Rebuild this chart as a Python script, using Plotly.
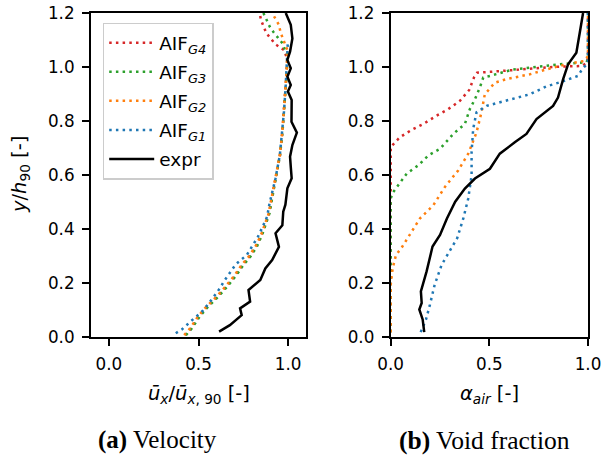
import plotly.graph_objects as go

# velocity panel (a): x = u/u90, y = y/h90
VEL_G4_X = [0.425, 0.458, 0.501, 0.548, 0.605, 0.652, 0.708, 0.746, 0.784, 0.821, 0.852, 0.871, 0.894, 0.904,
            0.931, 0.955, 0.968, 0.977, 0.986, 0.992, 0.995, 0.977, 0.930, 0.902, 0.879, 0.864, 0.849, 0.841]
VEL_G4_Y = [0.007, 0.032, 0.075, 0.112, 0.149, 0.184, 0.230, 0.267, 0.297, 0.334, 0.378, 0.415, 0.458, 0.495,
            0.588, 0.674, 0.760, 0.834, 0.921, 0.983, 1.030, 1.063, 1.084, 1.106, 1.125, 1.149, 1.174, 1.200]
VEL_G3_X = [0.430, 0.463, 0.506, 0.553, 0.610, 0.657, 0.713, 0.751, 0.789, 0.825, 0.855, 0.874, 0.896, 0.906,
            0.932, 0.955, 0.969, 0.978, 0.987, 0.993, 0.996, 0.986, 0.968, 0.940, 0.920, 0.898, 0.862]
VEL_G3_Y = [0.007, 0.032, 0.075, 0.112, 0.149, 0.184, 0.230, 0.267, 0.297, 0.334, 0.378, 0.415, 0.458, 0.495,
            0.588, 0.674, 0.760, 0.834, 0.921, 0.983, 1.044, 1.057, 1.088, 1.109, 1.128, 1.149, 1.200]
VEL_G2_X = [0.420, 0.453, 0.496, 0.543, 0.600, 0.647, 0.703, 0.741, 0.779, 0.817, 0.849, 0.868, 0.892, 0.902,
            0.930, 0.954, 0.968, 0.977, 0.986, 0.992, 0.996, 0.996, 0.981, 0.958, 0.949, 0.930, 0.911]
VEL_G2_Y = [0.007, 0.032, 0.075, 0.112, 0.149, 0.184, 0.230, 0.267, 0.297, 0.334, 0.378, 0.415, 0.458, 0.495,
            0.588, 0.674, 0.760, 0.834, 0.921, 0.983, 1.044, 1.063, 1.088, 1.128, 1.156, 1.178, 1.200]
VEL_G1_X = [0.373, 0.407, 0.460, 0.524, 0.575, 0.619, 0.641, 0.685, 0.709, 0.770, 0.798, 0.830, 0.860, 0.883,
            0.896, 0.930, 0.954, 0.968, 0.977, 0.986, 0.992, 0.996, 0.998]
VEL_G1_Y = [0.014, 0.028, 0.060, 0.097, 0.140, 0.180, 0.205, 0.248, 0.270, 0.304, 0.334, 0.369, 0.411, 0.446,
            0.493, 0.588, 0.674, 0.760, 0.834, 0.921, 0.983, 1.044, 1.084]
VEL_EXP_X = [0.615, 0.675, 0.741, 0.732, 0.788, 0.779, 0.845, 0.873, 0.911, 0.949, 0.930, 0.968, 0.973, 0.985,
             0.996, 1.020, 1.015, 1.011, 1.024, 1.049, 1.019, 1.020, 0.999, 1.015, 0.996, 1.015, 0.996, 1.011,
             1.024, 1.015, 0.987]
VEL_EXP_Y = [0.020, 0.044, 0.081, 0.106, 0.131, 0.174, 0.211, 0.254, 0.285, 0.334, 0.384, 0.414, 0.464, 0.490,
             0.551, 0.588, 0.630, 0.668, 0.711, 0.757, 0.797, 0.878, 0.909, 0.933, 0.964, 0.995, 1.026, 1.057,
             1.106, 1.156, 1.200]

# void fraction panel (b): x = alpha_air, y = y/h90
VOID_G4_X = [0.0, 0.0, 0.022, 0.047, 0.106, 0.165, 0.233, 0.292, 0.351, 0.398, 0.422, 0.438, 0.503, 0.604,
             0.705, 0.823, 0.971, 0.995, 1.0, 1.0]
VOID_G4_Y = [0.018, 0.703, 0.721, 0.740, 0.767, 0.789, 0.820, 0.844, 0.875, 0.915, 0.961, 0.979, 0.982, 0.988,
             0.994, 1.000, 1.004, 1.016, 1.040, 1.200]
VOID_G3_X = [0.0, 0.0, 0.013, 0.039, 0.081, 0.140, 0.190, 0.250, 0.317, 0.376, 0.401, 0.427, 0.452, 0.469,
             0.503, 0.621, 0.739, 0.857, 0.992, 1.0, 1.0]
VOID_G3_Y = [0.018, 0.513, 0.537, 0.564, 0.605, 0.636, 0.672, 0.697, 0.752, 0.789, 0.844, 0.881, 0.924, 0.961,
             0.967, 0.991, 1.001, 1.010, 1.018, 1.030, 1.200]
VOID_G2_X = [0.0, 0.0, 0.010, 0.027, 0.054, 0.106, 0.148, 0.216, 0.275, 0.342, 0.393, 0.435, 0.460, 0.477,
             0.528, 0.587, 0.705, 0.789, 0.890, 0.978, 1.0, 1.0]
VOID_G2_Y = [0.018, 0.194, 0.255, 0.304, 0.329, 0.390, 0.439, 0.488, 0.556, 0.617, 0.679, 0.758, 0.832, 0.899,
             0.942, 0.955, 0.973, 0.991, 1.010, 1.022, 1.040, 1.200]
VOID_G1_X = [0.152, 0.179, 0.199, 0.223, 0.258, 0.300, 0.337, 0.368, 0.393, 0.410, 0.410, 0.418, 0.435, 0.486,
             0.587, 0.705, 0.789, 0.865, 0.949, 0.970, 1.0, 1.0]
VOID_G1_Y = [0.018, 0.065, 0.120, 0.194, 0.267, 0.317, 0.366, 0.439, 0.513, 0.599, 0.685, 0.771, 0.832, 0.856,
             0.875, 0.899, 0.928, 0.945, 0.967, 0.991, 1.016, 1.200]
VOID_EXP_X = [0.170, 0.162, 0.145, 0.157, 0.153, 0.182, 0.212, 0.250, 0.285, 0.327, 0.376, 0.427, 0.503, 0.553,
              0.629, 0.688, 0.739, 0.823, 0.848, 0.874, 0.899, 0.941, 0.958, 0.975]
VOID_EXP_Y = [0.018, 0.065, 0.102, 0.126, 0.169, 0.243, 0.335, 0.378, 0.439, 0.501, 0.550, 0.587, 0.623, 0.679,
              0.721, 0.752, 0.807, 0.856, 0.887, 0.955, 1.010, 1.053, 1.126, 1.200]

Y_TICKS = [0.0, 0.2, 0.4, 0.6, 0.8, 1.0, 1.2]
X_TICKS = [0.0, 0.5, 1.0]

NAMES = ["AIF<sub><i>G4</i></sub>", "AIF<sub><i>G3</i></sub>", "AIF<sub><i>G2</i></sub>",
         "AIF<sub><i>G1</i></sub>", "expr"]
COLORS = ["#d62728", "#2ca02c", "#ff7f0e", "#1f77b4", "black"]

FONT = "DejaVu Sans"
DOT = "2.5px,4.2px"

vel = [(VEL_G4_X, VEL_G4_Y), (VEL_G3_X, VEL_G3_Y), (VEL_G2_X, VEL_G2_Y), (VEL_G1_X, VEL_G1_Y),
       (VEL_EXP_X, VEL_EXP_Y)]
void = [(VOID_G4_X, VOID_G4_Y), (VOID_G3_X, VOID_G3_Y), (VOID_G2_X, VOID_G2_Y), (VOID_G1_X, VOID_G1_Y),
        (VOID_EXP_X, VOID_EXP_Y)]

fig = go.Figure()
for i, (name, color) in enumerate(zip(NAMES, COLORS)):
    line = dict(color=color, width=2.5) if name == "expr" else dict(color=color, width=2.5, dash=DOT)
    fig.add_trace(go.Scatter(x=vel[i][0], y=vel[i][1], mode="lines", name=name, line=line,
                             legendgroup=str(i), xaxis="x", yaxis="y"))
for i, (name, color) in enumerate(zip(NAMES, COLORS)):
    line = dict(color=color, width=2.5) if name == "expr" else dict(color=color, width=2.5, dash=DOT)
    fig.add_trace(go.Scatter(x=void[i][0], y=void[i][1], mode="lines", name=name, line=line,
                             legendgroup=str(i), showlegend=False, xaxis="x2", yaxis="y2"))

axis_style = dict(showgrid=False, zeroline=False, showline=True, mirror=True, linecolor="black",
                  linewidth=2, ticks="outside", ticklen=7, tickwidth=2, tickcolor="black", automargin=False,
                  ticklabelstandoff=4, ticklabeloverflow="allow",
                  tickfont=dict(family=FONT, size=16.8, color="black"), tickformat=".1f")

W, H = 604, 457
L, T, R, B = 91, 13, 604 - 588, 457 - 337
pw, ph = W - L - R, H - T - B


def px(x):
    return (x - L) / pw


def py(y):
    return (H - B - y) / ph


fig.update_layout(
    width=W, height=H, margin=dict(l=L, r=R, t=T, b=B, autoexpand=False),
    paper_bgcolor="white", plot_bgcolor="white",
    xaxis=dict(domain=[0, px(306)], range=[-0.1, 1.1], tickvals=X_TICKS, anchor="y", **axis_style),
    yaxis=dict(domain=[0, 1], range=[0, 1.2], tickvals=Y_TICKS, anchor="x", **axis_style),
    xaxis2=dict(domain=[px(390.7), 1], range=[0, 1], tickvals=X_TICKS, anchor="y2", **axis_style),
    yaxis2=dict(domain=[0, 1], range=[0, 1.2], tickvals=Y_TICKS, anchor="x2", **axis_style),
    legend=dict(x=px(102.7), y=py(22.7), xanchor="left", yanchor="top", traceorder="grouped",
                tracegroupgap=2, bgcolor="rgba(255,255,255,0.8)", bordercolor="#cccccc", borderwidth=1.5,
                font=dict(family=FONT, size=18.5, color="black"), itemwidth=45),
    showlegend=True,
)

ann = dict(xref="paper", yref="paper", showarrow=False, xanchor="center", yanchor="middle")
fig.add_annotation(x=px(20), y=0.5, text="<i>y</i>/<i>h</i><sub>90</sub> [-]", textangle=-90,
                   font=dict(family=FONT, size=19.5, color="black"), **ann)
fig.add_annotation(x=px(198.5), y=py(395),
                   text="<i>ū</i><sub><i>x</i></sub>/<i>ū</i><sub><i>x</i>, 90</sub> [-]",
                   font=dict(family=FONT, size=19.5, color="black"), **ann)
fig.add_annotation(x=px(489.5), y=py(395), text="<i>α</i><sub><i>air</i></sub> [-]",
                   font=dict(family=FONT, size=19.5, color="black"), **ann)
fig.add_annotation(x=px(157), y=py(440), text="<b>(a)</b> Velocity",
                   font=dict(family="Liberation Serif", size=25, color="black"), **ann)
fig.add_annotation(x=px(484), y=py(440), text="<b>(b)</b> Void fraction",
                   font=dict(family="Liberation Serif", size=25.5, color="black"), **ann)

# drop the default 8px page margin so the figure sits at the window's top-left corner
fig.write_html("out.html", config={"displayModeBar": False},
               post_script="document.body.style.margin='0';")
